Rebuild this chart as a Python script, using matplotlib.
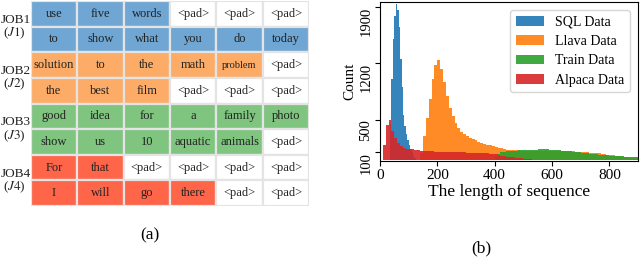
import numpy as np
import matplotlib
matplotlib.use("Agg")
import matplotlib.pyplot as plt
from matplotlib.patches import Rectangle

plt.rcParams['font.family'] = ['Liberation Serif', 'DejaVu Serif']
plt.rcParams['mathtext.fontset'] = 'stix'

# ---- panel (a): packed token table ----
tokens = [
    ["use", "five", "words", "<pad>", "<pad>", "<pad>"],
    ["to", "show", "what", "you", "do", "today"],
    ["solution", "to", "the", "math", "problem", "<pad>"],
    ["the", "best", "film", "<pad>", "<pad>", "<pad>"],
    ["good", "idea", "for", "a", "family", "photo"],
    ["show", "us", "10", "aquatic", "animals", "<pad>"],
    ["For", "that", "<pad>", "<pad>", "<pad>", "<pad>"],
    ["I", "will", "go", "there", "<pad>", "<pad>"],
]
row_job = [0, 0, 1, 1, 2, 2, 3, 3]
job_names = ["JOB1", "JOB2", "JOB3", "JOB4"]
job_short = ["J1", "J2", "J3", "J4"]
job_colors = ["#6fa6d3", "#fcac67", "#7fc47f", "#fe6549"]

# ---- panel (b): sequence length histograms (counts read per bin) ----
sql_start, sql_bw = 35, 5
sql_counts = [450, 1000, 1500, 1780, 1930, 1860, 1650, 1250, 900, 560,
              420, 320, 240, 180, 140, 100, 60, 25]

llava_start, llava_bw = 140, 10
llava_counts = [80, 300, 520, 760, 1000, 1180, 1240, 1130, 970, 790,
                640, 545, 455, 395, 350, 318, 292, 272, 256, 240,
                224, 212, 198, 188, 180, 171, 160, 150, 141, 132,
                126, 121, 118, 117, 116, 115, 115, 114, 114, 113,
                113, 112, 112, 112, 112, 111, 111, 111, 110, 110,
                110, 108, 106, 104, 101, 99, 96, 94, 91, 88,
                85, 82, 79, 75, 70, 64, 59, 55, 50, 45,
                40, 36, 31, 26, 21, 17]

train_start, train_bw = 400, 10
train_counts = [30, 70, 95, 100, 105, 110, 112, 115, 118, 120,
                122, 124, 125, 126, 127, 128, 129, 129, 128, 127,
                125, 122, 118, 115, 111, 108, 105, 101, 98, 93,
                89, 85, 81, 77, 73, 69, 65, 62, 59, 56,
                53, 50, 47, 45, 42, 39, 36, 34, 31, 29]

alpaca_start, alpaca_bw = 10, 10
alpaca_counts = [180, 430, 500, 360, 270, 210, 170, 150, 140, 134,
                 128, 122, 118, 114, 110, 108, 106, 104, 103, 102,
                 101, 100, 99, 97, 96, 95, 93, 92, 91, 90,
                 89, 88, 87, 86, 84, 82, 79, 76, 72, 66,
                 58, 52, 46, 40, 35, 31, 27, 22, 18, 14,
                 10, 6, 3]

series = [
    ("SQL Data", sql_start, sql_bw, sql_counts, "#1f77b4"),
    ("Llava Data", llava_start, llava_bw, llava_counts, "#ff7f0e"),
    ("Train Data", train_start, train_bw, train_counts, "#2ca02c"),
    ("Alpaca Data", alpaca_start, alpaca_bw, alpaca_counts, "#d62728"),
]

fig = plt.figure(figsize=(6.4, 2.6), dpi=100)

# table axes
ax_t = fig.add_axes([30.7 / 640, 1 - 206 / 260, 278.5 / 640, 205 / 260])
n_rows, n_cols = len(tokens), len(tokens[0])
ax_t.set_xlim(0, n_cols)
ax_t.set_ylim(n_rows, 0)
ax_t.axis("off")
for i, row in enumerate(tokens):
    for j, tok in enumerate(row):
        face = "white" if tok == "<pad>" else job_colors[row_job[i]]
        ax_t.add_patch(Rectangle((j, i), 1, 1, facecolor=face,
                                 edgecolor="#e4e4e4", linewidth=1.6))
        size = 7.5 if tok == "problem" else 9
        ax_t.text(j + 0.5, i + 0.5, tok, ha="center", va="center",
                  fontsize=size, color="#222222")
for k in range(len(job_names)):
    ax_t.text(-0.33, 2 * k + 0.74, job_names[k], ha="center", va="center",
              fontsize=9.5, color="#222222", clip_on=False)
    ax_t.text(-0.35, 2 * k + 1.26, "($\\mathit{%s}$)" % job_short[k],
              ha="center", va="center", fontsize=9.5, color="#222222",
              clip_on=False)

fig.text(150 / 640, 1 - 235 / 260, "(a)", ha="center", va="center", fontsize=12.5)

# histogram axes
ax = fig.add_axes([380 / 640, 1 - 161 / 260, 258 / 640, 159 / 260])
for label, start, bw, counts, color in series:
    edges = start + bw * np.arange(len(counts) + 1)
    ax.stairs(counts, edges, fill=True, color=color, alpha=0.9,
              linewidth=0, label=label)

ax.set_xlim(0, 900)
ax.set_ylim(-15, 1960)
ax.set_xticks([0, 200, 400, 600, 800])
ax.set_yticks([100, 500, 1200, 1900])
ax.tick_params(axis="x", labelsize=11, length=3.5, pad=2)
ax.tick_params(axis="y", labelsize=10.5, length=3.5, pad=2)
for t in ax.get_yticklabels():
    t.set_rotation(90)
    t.set_va("top")
ax.set_xlabel("The length of sequence", fontsize=12.5, labelpad=2)
ax.set_ylabel("Count", fontsize=11, labelpad=2)
ax.legend(loc="upper right", fontsize=10, handlelength=2.0,
          borderaxespad=0.6, labelspacing=0.45)

fig.text(481 / 640, 1 - 248 / 260, "(b)", ha="center", va="center", fontsize=12.5)

fig.savefig("out.png", dpi=100)
